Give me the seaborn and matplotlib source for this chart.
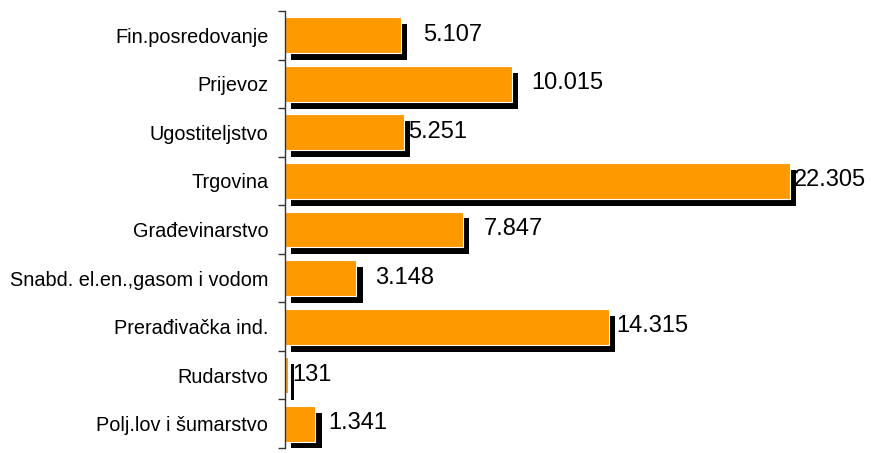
import numpy as np
import matplotlib
matplotlib.use("Agg")
import matplotlib.pyplot as plt
import matplotlib.patheffects as pe
import seaborn as sns

# data, top to bottom
categories = ['Fin.posredovanje', 'Prijevoz', 'Ugostiteljstvo', 'Trgovina',
              'Građevinarstvo', 'Snabd. el.en.,gasom i vodom', 'Prerađivačka ind.',
              'Rudarstvo', 'Polj.lov i šumarstvo']
values = [5107, 10015, 5251, 22305, 7847, 3148, 14315, 131, 1341]
value_labels = ['5.107', '10.015', '5.251', '22.305', '7.847', '3.148', '14.315', '131', '1.341']

# label gaps in pixels from bar end (as drawn in the original)
label_gap_px = [22, 19, 4, 4, 21, 19, 7, 4, 13]

sns.set_style('white')
plt.rcParams['font.family'] = ['Liberation Sans', 'DejaVu Sans']

fig = plt.figure(figsize=(8.71, 4.53), dpi=100)
ax = fig.add_axes([285 / 871, 1 - 448 / 453, 1 - 285 / 871, 437 / 453])

sns.barplot(x=values, y=categories, orient='h', color='#FF9900', saturation=1,
            width=0.74, edgecolor='white', linewidth=0.8, ax=ax)
for bar in ax.patches:
    bar.set_path_effects([pe.SimplePatchShadow(offset=(4.5, -5), shadow_rgbFace='black', alpha=1),
                          pe.Normal()])

ax.set_xlim(0, 586 / 0.02265)
ax.set_ylim(8.5, -0.5)
ax.set_xticks([])
ax.set_xlabel('')
ax.set_ylabel('')

px = 72 / fig.dpi
for i, (v, lab) in enumerate(zip(values, value_labels)):
    ax.annotate(lab, (v, i), xytext=(label_gap_px[i] * px, 0.5 * px), textcoords='offset points',
                ha='left', va='center', fontsize=17, color='black', annotation_clip=False)

ax.set_yticks(np.arange(-0.5, 9, 1), minor=True)
ax.tick_params(axis='y', which='major', length=0, pad=12, labelsize=14.3, colors='black')
ax.tick_params(axis='y', which='minor', length=5, width=1, color='#333333', left=True)

for s in ['top', 'right', 'bottom']:
    ax.spines[s].set_visible(False)
ax.spines['left'].set_color('#333333')
ax.spines['left'].set_linewidth(1)

fig.savefig('out.png', dpi=100)
